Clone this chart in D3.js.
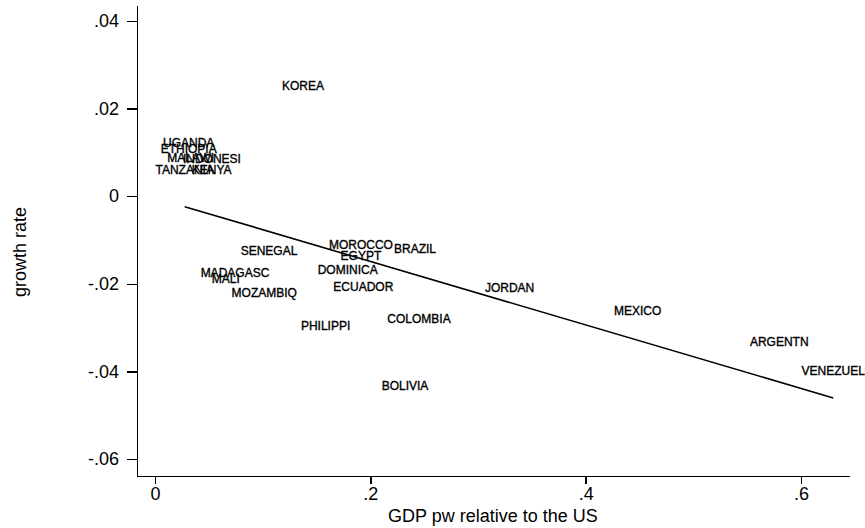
<!DOCTYPE html>
<html>
<head>
<meta charset="utf-8">
<title>growth rate vs GDP pw</title>
<script src="https://cdnjs.cloudflare.com/ajax/libs/d3/7.8.5/d3.min.js"></script>
<style>
  html, body { margin: 0; padding: 0; background: #fff; }
  svg { display: block; font-family: 'Liberation Sans', Arial, sans-serif; }
  .axis path, .axis line { stroke: #000; stroke-width: 1.4px; shape-rendering: crispEdges; }
  .axis text { font-size: 18px; fill: #000; }
  .title { font-size: 18px; fill: #000; }
  .mlabel { font-size: 12px; fill: #000; stroke: #000; stroke-width: 0.35px; }
  .fit { fill: none; stroke: #000; stroke-width: 1.6px; }
</style>
</head>
<body>
<svg class="scatter"></svg>
<script>
const countries = ['KOREA', 'UGANDA', 'ETHIOPIA', 'MALAWI', 'INDONESI', 'TANZANIA', 'KENYA',
  'SENEGAL', 'MOROCCO', 'BRAZIL', 'EGYPT', 'DOMINICA', 'MADAGASC', 'MALI', 'MOZAMBIQ',
  'ECUADOR', 'PHILIPPI', 'COLOMBIA', 'BOLIVIA', 'JORDAN', 'MEXICO', 'ARGENTN', 'VENEZUEL'];
const gdpRel = [0.1375, 0.0313, 0.0313, 0.0332, 0.0529, 0.0276, 0.0527,
  0.1059, 0.1913, 0.2415, 0.1913, 0.1790, 0.0743, 0.0657, 0.1015,
  0.1935, 0.1585, 0.2452, 0.2322, 0.3294, 0.4483, 0.5798, 0.6300];
const growth = [0.0252, 0.0122, 0.0108, 0.0087, 0.0085, 0.0060, 0.0060,
  -0.0124, -0.0111, -0.0121, -0.0137, -0.0167, -0.0174, -0.0189, -0.0220,
  -0.0207, -0.0296, -0.0280, -0.0433, -0.0208, -0.0261, -0.0332, -0.0399];

// fitted line
const fitIntercept = -0.0004;
const fitSlope = -0.0725;

const yTicks = [0.04, 0.02, 0, -0.02, -0.04, -0.06];
const yTickLabels = ['.04', '.02', '0', '-.02', '-.04', '-.06'];
const xTicks = [0, 0.2, 0.4, 0.6];
const xTickLabels = ['0', '.2', '.4', '.6'];

const app = (function () {
  'use strict';

  function init () {
    console.log('Init scatter');
    draw();
  }

  function draw () {
    const W = 865;
    const H = 528;
    const plot = { left: 137, right: 849, top: 5, bottom: 476 };

    const svg = d3.select('.scatter')
      .attr('width', W)
      .attr('height', H);

    const x = d3.scaleLinear()
      .domain([-0.0167, 0.6446])
      .range([plot.left, plot.right]);

    const y = d3.scaleLinear()
      .domain([-0.0639, 0.04365])
      .range([plot.bottom, plot.top]);

    svg.append('g')
      .attr('class', 'axis y')
      .attr('transform', 'translate(' + plot.left + ',0)')
      .call(d3.axisLeft(y)
        .tickValues(yTicks)
        .tickSize(10)
        .tickSizeOuter(0)
        .tickPadding(8)
        .tickFormat(function (d, i) { return yTickLabels[i]; }));

    svg.append('g')
      .attr('class', 'axis x')
      .attr('transform', 'translate(0,' + plot.bottom + ')')
      .call(d3.axisBottom(x)
        .tickValues(xTicks)
        .tickSize(8)
        .tickSizeOuter(0)
        .tickPadding(3)
        .tickFormat(function (d, i) { return xTickLabels[i]; }));

    svg.selectAll('.axis').attr('font-size', null).attr('font-family', null);

    // regression line over the range of the data
    const ext = d3.extent(gdpRel);
    const line = d3.line()
      .x(function (d) { return x(d); })
      .y(function (d) { return y(fitIntercept + fitSlope * d); });

    svg.append('path')
      .attr('class', 'fit')
      .attr('d', line(ext));

    // country names in place of markers
    svg.append('g')
      .selectAll('text')
      .data(countries)
      .enter().append('text')
      .attr('class', 'mlabel')
      .attr('x', function (d, i) { return x(gdpRel[i]); })
      .attr('y', function (d, i) { return y(growth[i]); })
      .attr('dy', '0.36em')
      .attr('text-anchor', 'middle')
      .text(function (d) { return d; });

    svg.append('text')
      .attr('class', 'title')
      .attr('x', (plot.left + plot.right) / 2)
      .attr('y', 522)
      .attr('text-anchor', 'middle')
      .text('GDP pw relative to the US');

    svg.append('text')
      .attr('class', 'title')
      .attr('transform', 'translate(26,' + 252 + ') rotate(-90)')
      .attr('text-anchor', 'middle')
      .text('growth rate');
  }

  return {
    init: init
  };
}());

window.addEventListener('load', app.init);
</script>
</body>
</html>
